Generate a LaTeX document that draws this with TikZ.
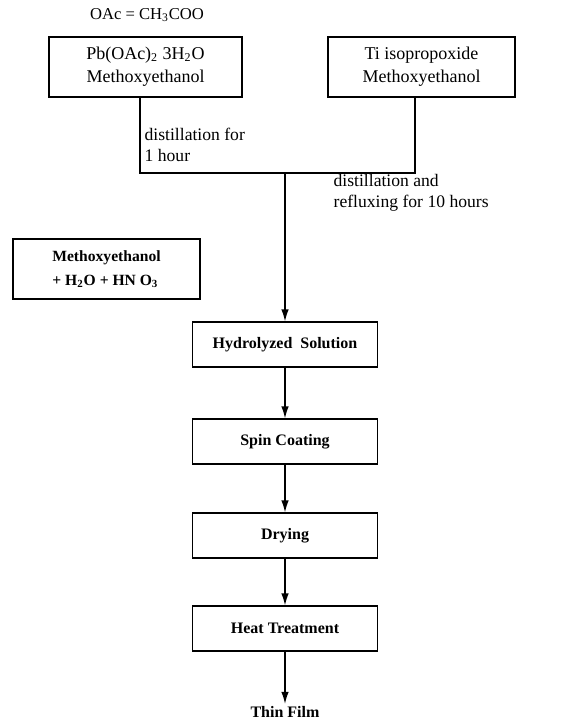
\documentclass[tikz,border=0pt]{standalone}
\usepackage{fontspec}
\setmainfont{Liberation Serif}
\usetikzlibrary{arrows.meta}
\usetikzlibrary{calc,positioning}

\newcommand{\chemsub}[1]{\textsubscript{#1}}

\tikzset{
    caixa/.style={draw, inner sep=0pt, align=center,
        minimum width=92.5pt, minimum height=22.5pt,
        font=\fontsize{8}{10}\bfseries},
    caixaalta/.style={caixa, minimum height=30pt,
        font=\fontsize{9}{11.5}\selectfont},
    rotulo/.style={inner sep=0pt, align=left, font=\fontsize{8.8}{10.5}\selectfont},
}

\begin{document}
\begin{tikzpicture}[>={Latex[length=6pt,width=3.8pt]}, x=0.5pt, y=-0.5pt,
    line width=0.65pt]

    \useasboundingbox (0,0) rectangle (565,721);

    % reagentes de partida
    \node[inner sep=0pt, font=\fontsize{8.3}{10}\selectfont] (oac) at (147,15) {OAc = CH\chemsub{3}COO};
    \node[caixaalta, minimum width=96.5pt] (pb) at (145.5,67)
        {Pb(OAc)\chemsub{2} 3H\chemsub{2}O\\Methoxyethanol};
    \node[caixaalta, minimum width=93.5pt] (ti) at (421.5,67)
        {Ti isopropoxide\\Methoxyethanol};
    \node[caixaalta, minimum width=93.5pt, font=\fontsize{7.8}{12}\bfseries, align=left] (agua) at (106.5,269)
        {Methoxyethanol\\+ H\chemsub{2}O + HN O\chemsub{3}};

    % etapas do processo
    \node[caixa] (hidro) at (285,344.5) {Hydrolyzed\ \ Solution};
    \node[caixa] (spin) at (285,441.5) {Spin Coating};
    \node[caixa] (seca) at (285,535.5) {Drying};
    \node[caixa] (calor) at (285,628.5) {Heat Treatment};
    \node[inner sep=1pt, font=\fontsize{8}{10}\bfseries] (filme) at (285,712) {Thin Film};

    % juncao das duas solucoes
    \coordinate (j) at (285,173);
    \draw ([xshift=-2.75pt]pb.south) |- (j);
    \draw ([xshift=-3.25pt]ti.south) |- (j);

    % rotulos das linhas
    \node[rotulo, anchor=west] (dist1) at (144,145) {distillation for\\1 hour};
    \node[rotulo, anchor=west] (dist2) at (333,193) {distillation and\\refluxing for 10 hours};

    % setas
    \draw[->] (j) -- (hidro);
    \draw[->] (hidro) -- (spin);
    \draw[->] (spin) -- (seca);
    \draw[->] (seca) -- (calor);
    \draw[->] (calor) -- (filme);

\end{tikzpicture}
\end{document}
